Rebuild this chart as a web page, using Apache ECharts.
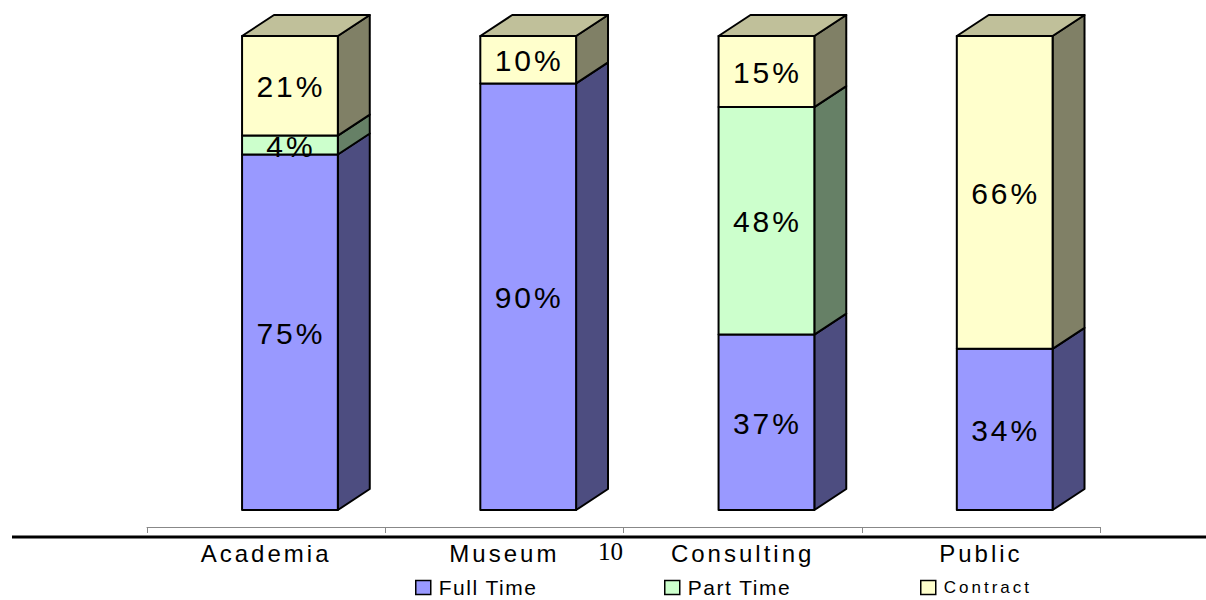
<!DOCTYPE html>
<html>
<head>
<meta charset="utf-8">
<script src="https://cdn.jsdelivr.net/npm/echarts@6/dist/echarts.min.js"></script>
<style>
html,body{margin:0;padding:0;background:#fff;}
#c{width:1206px;height:600px;}
#c text{letter-spacing:3px;}
#c text[style*="21px"]{letter-spacing:1.5px;}
#c text[style*="serif"]:not([style*="sans"]){letter-spacing:0px;}
</style>
</head>
<body>
<div id="c"></div>
<script>
var categories = ['Academia', 'Museum', 'Consulting', 'Public'];
var seriesNames = ['Full Time', 'Part Time', 'Contract'];
var fullTime = [75, 90, 37, 34];
var partTime = [4, 0, 48, 0];
var contract = [21, 10, 15, 66];
var frontColors = ['#9999FF', '#CCFFCC', '#FFFFCC'];
var sideColors = ['#4D4D80', '#668066', '#808066'];
var topColors = ['#B3B3FF', '#A3CCA3', '#C0C09A'];

var values = [fullTime, partTime, contract];
var chart = echarts.init(document.getElementById('c'), null, { renderer: 'svg' });

function buildData(si) {
  var out = [];
  for (var i = 0; i < categories.length; i++) {
    var base = 0;
    for (var k = 0; k < si; k++) base += values[k][i];
    var isTop = true;
    for (var k2 = si + 1; k2 < values.length; k2++) if (values[k2][i] > 0) isTop = false;
    out.push([i, base, values[si][i], isTop ? 1 : 0]);
  }
  return out;
}

function makeRender(si) {
  return function (params, api) {
    var v = api.value(2);
    if (!v) return null;
    var ci = api.value(0), base = api.value(1), isTop = api.value(3);
    var p0 = api.coord([ci, base]);
    var p1 = api.coord([ci, base + v]);
    var bw = api.size([1, 0])[0];
    var left = p0[0] - bw * 0.101;
    var w = bw * 0.402;
    var dx = bw * 0.134, dy = 21;
    var yb = p0[1], yt = p1[1];
    var ls = { stroke: '#000', lineWidth: 2, lineJoin: 'round' };
    var children = [];
    children.push({ type: 'polygon', shape: { points: [[left + w, yb], [left + w + dx, yb - dy], [left + w + dx, yt - dy], [left + w, yt]] },
      style: Object.assign({ fill: sideColors[si] }, ls) });
    if (isTop) {
      children.push({ type: 'polygon', shape: { points: [[left, yt], [left + w, yt], [left + w + dx, yt - dy], [left + dx, yt - dy]] },
        style: Object.assign({ fill: topColors[si] }, ls) });
    }
    children.push({ type: 'rect', shape: { x: left, y: yt, width: w, height: yb - yt },
      style: Object.assign({ fill: frontColors[si] }, ls) });
    children.push({ type: 'text', style: { text: v + '%', x: left + w / 2 + 1, y: (yt + yb) / 2 + 1, align: 'center', verticalAlign: 'middle',
      font: '30px "Liberation Sans", Arial, sans-serif', fill: '#000' }, z2: 10 });
    return { type: 'group', children: children };
  };
}

var series = seriesNames.map(function (n, si) {
  return {
    type: 'custom', name: n, renderItem: makeRender(si), data: buildData(si),
    encode: { x: 0, y: [1, 2] },
    itemStyle: { color: frontColors[si], borderColor: '#000', borderWidth: 1 },
    z: 2 + si, clip: false
  };
});

var legendLeft = [413, 662, 918];
var legends = seriesNames.map(function (n, si) {
  return {
    data: [n], left: legendLeft[si], top: 577, padding: [0, 30, 0, 2], itemWidth: 15, itemHeight: 14, itemGap: 8,
    icon: 'rect', selectedMode: false,
    itemStyle: { borderColor: '#000', borderWidth: 1.5 },
    textStyle: { fontFamily: '"Liberation Sans", Arial, sans-serif', fontSize: si === 2 ? 17 : 21, color: '#000', lineHeight: 21, padding: [0, 0, 0, 3] }
  };
});

chart.setOption({
  animation: false,
  backgroundColor: '#fff',
  grid: { left: 147, right: 106, top: 36, bottom: 90, containLabel: false },
  xAxis: {
    type: 'category', data: categories, offset: 17, boundaryGap: true,
    axisLine: { onZero: false, lineStyle: { color: '#888', width: 1 } },
    axisTick: { show: true, length: 6, lineStyle: { color: '#888' } },
    axisLabel: { margin: 14, color: '#000', fontSize: 24, fontFamily: '"Liberation Sans", Arial, sans-serif' }
  },
  yAxis: { type: 'value', min: 0, max: 100, show: false, splitLine: { show: false } },
  legend: legends,
  series: series,
  graphic: [
    { type: 'line', shape: { x1: 12, y1: 537, x2: 1206, y2: 537 }, style: { stroke: '#000', lineWidth: 3 }, z: 100 },
    { type: 'text', left: 598, top: 539, style: { text: '10', font: '25px "Liberation Serif", "Times New Roman", serif', fill: '#000' }, z: 100 }
  ]
});
</script>
</body>
</html>
